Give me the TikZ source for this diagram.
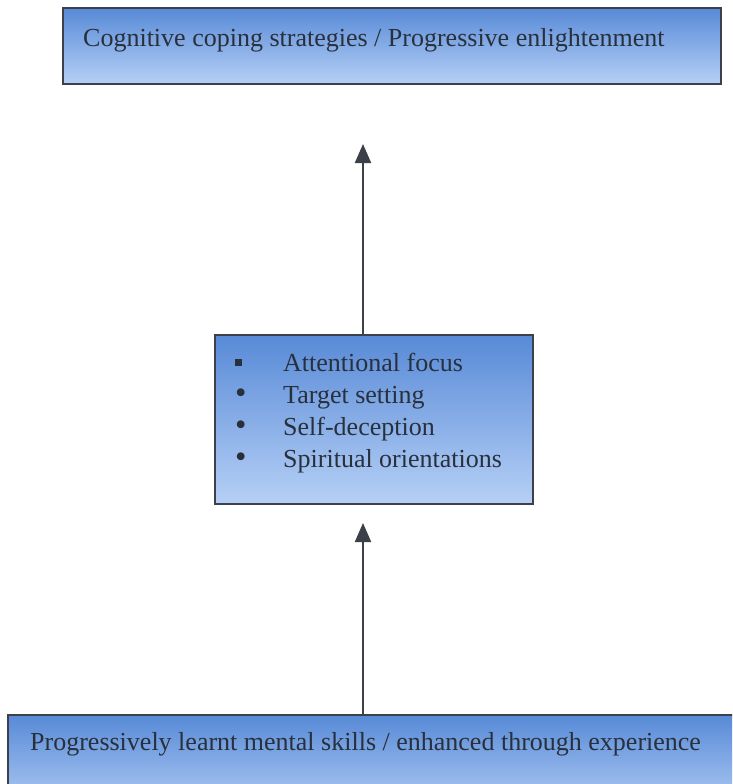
\documentclass[tikz,border=0pt]{standalone}
\usepackage{fontspec}
\setmainfont{Liberation Serif}
\usepackage{xcolor}
\usetikzlibrary{arrows.meta}
\usetikzlibrary{positioning}
\definecolor{boxtop}{RGB}{88,138,215}
\definecolor{boxbot}{RGB}{182,208,246}
\definecolor{edge}{RGB}{60,64,72}
\definecolor{ink}{RGB}{40,48,60}

\begin{document}
\begin{tikzpicture}[x=1pt,y=-1pt,
  box/.style={draw=edge,line width=2.2pt,top color=boxtop,bottom color=boxbot,inner sep=0pt,anchor=north west},
  lbl/.style={text=ink,font=\fontsize{26}{31}\selectfont,inner sep=0pt,anchor=base west},
  up/.style={draw=edge,line width=2pt,-{Triangle[length=19pt,width=16pt]}}]
\useasboundingbox (0,0) rectangle (732,784);
\clip (0,0) rectangle (732,784);
% the three boxes
\node[box,minimum width=658pt,minimum height=76pt] (goal) at (62,7) {};
\node[box,minimum width=318pt,minimum height=169pt] (focus) at (214,334) {};
\node[box,minimum width=760pt,minimum height=100pt] (base) at (7,714) {};
% texts
\node[lbl] (goaltxt) at (83,47) {Cognitive coping strategies / Progressive enlightenment};
\node[lbl] (att) at (235,371) {\makebox[48pt][l]{\raisebox{5.5pt}{\rule{7pt}{7pt}}}Attentional focus};
\node[lbl] (tgt) at (235,403) {\makebox[48pt][l]{\scalebox{1.25}{\textbullet}}Target setting};
\node[lbl] (dec) at (235,435) {\makebox[48pt][l]{\scalebox{1.25}{\textbullet}}Self-deception};
\node[lbl] (spi) at (235,467) {\makebox[48pt][l]{\scalebox{1.25}{\textbullet}}Spiritual orientations};
\node[lbl] (basetxt) at (30,750) {Progressively learnt mental skills / enhanced through experience};
% arrows
\coordinate (tip1) at (363,144);
\coordinate (tip2) at (363,523);
\draw[up] (focus.north -| tip1) -- (tip1);
\draw[up] (base.north -| tip2) -- (tip2);
\end{tikzpicture}
\end{document}
